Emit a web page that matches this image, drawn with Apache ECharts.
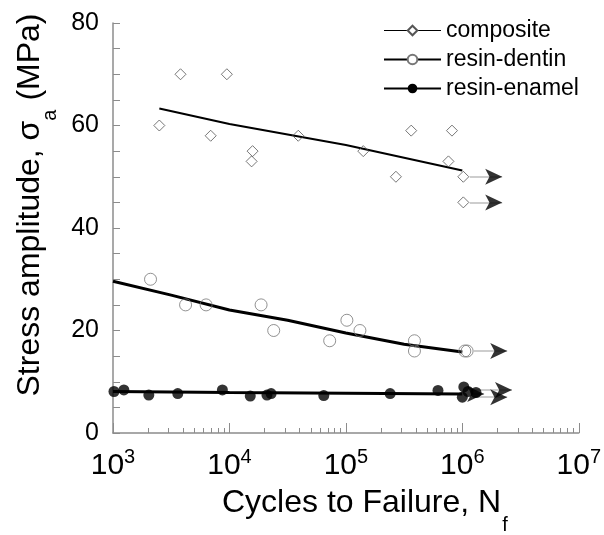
<!DOCTYPE html>
<html><head><meta charset="utf-8">
<script src="https://cdn.jsdelivr.net/npm/echarts@6/dist/echarts.min.js"></script>
<style>html,body{margin:0;padding:0;background:#fff}#c{width:604px;height:535px}</style>
</head><body><div id="c"></div>
<script>
// ---- data ----
const compositeN = [2500, 3800, 9500, 6900, 15800, 15500, 39000, 141000, 269000, 364000, 760000, 815000, 1020000, 1020000];
const compositeS = [60, 70, 70, 58, 55, 53, 58, 55, 50, 59, 53, 59, 50, 45];
const dentinN = [2100, 4200, 6300, 18700, 24000, 72600, 102000, 132000, 388000, 388000, 1050000, 1100000];
const dentinS = [30, 25, 25, 25, 20, 18, 22, 20, 18, 16, 16, 16];
const enamelN = [1020, 1240, 2030, 3600, 8700, 15100, 21000, 22800, 64600, 240000, 618000, 1030000, 1000000, 1120000, 1310000];
const enamelS = [8.1, 8.4, 7.4, 7.7, 8.4, 7.2, 7.4, 7.7, 7.3, 7.7, 8.3, 9.0, 7.0, 8.1, 7.9];

// fitted curves
const compositeFitN = [2500, 10000, 100000, 1000000];
const compositeFitS = [63.3, 60.3, 56.2, 51.2];
const dentinFitN = [1000, 3162, 10000, 31623, 100000, 316228, 1000000];
const dentinFitS = [29.6, 26.9, 24.0, 22.0, 19.5, 17.3, 15.8];
const enamelFitN = [1000, 10000, 100000, 1000000];
const enamelFitS = [8.1, 7.9, 7.75, 7.6];

// run-out arrows
const runoutY = [50, 45, 16, 8.4, 7.6, 7.0];
const runoutFromN = [1160000, 1160000, 1260000, 1230000, 1230000, 1230000];
const runoutHeadN = [2200000, 2200000, 2430000, 2670000, 1540000, 2430000];

// axis ticks
const xMin = 1e3, xMax = 1e7;
const xMinorTicks = [];
[1e3, 1e4, 1e5, 1e6].forEach(d => { for (let k = 2; k <= 9; k++) xMinorTicks.push(d * k); });
const yMin = 0, yMax = 80, yStep = 20;

const FONT = '"Liberation Sans", Arial, sans-serif';
const AX = '#8c8c8c';
const pairs = (xs, ys) => xs.map((x, i) => [x, ys[i]]);

const chart = echarts.init(document.getElementById('c'), null, {renderer: 'canvas'});
chart.setOption({
  animation: false,
  textStyle: {fontFamily: FONT},
  grid: {left: 113, right: 23, top: 23, bottom: 102, containLabel: false},
  legend: {
    orient: 'vertical', left: 383, top: 19, padding: 0,
    itemWidth: 57, itemHeight: 12, itemGap: 6,
    textStyle: {fontFamily: FONT, fontSize: 23, color: '#000', padding: [0, 0, 0, 0]},
    data: [
      {name: 'composite', lineStyle: {width: 1}},
      {name: 'resin-dentin', lineStyle: {width: 2}},
      {name: 'resin-enamel', lineStyle: {width: 2}}
    ]
  },
  xAxis: [{
    type: 'log', logBase: 10, min: xMin, max: xMax,
    axisLine: {lineStyle: {color: AX, width: 1.5}},
    axisTick: {inside: true, length: 10, lineStyle: {color: AX, width: 1}},
    splitLine: {show: false},
    axisLabel: {
      margin: 14, color: '#000',
      formatter: v => '{b|10}{s|' + Math.round(Math.log10(v)) + '}',
      rich: {
        b: {fontFamily: FONT, fontSize: 30, lineHeight: 30, padding: [8, 0, 0, 0], color: '#000'},
        s: {fontFamily: FONT, fontSize: 20, lineHeight: 20, verticalAlign: 'top', color: '#000'}
      }
    }
  }, {
    type: 'log', logBase: 10, min: xMin, max: xMax, position: 'bottom',
    axisLine: {show: false},
    axisTick: {inside: true, length: 5, customValues: xMinorTicks, lineStyle: {color: AX, width: 1}},
    axisLabel: {show: false},
    splitLine: {show: false}
  }],
  yAxis: {
    type: 'value', min: yMin, max: yMax, interval: yStep,
    axisLine: {show: true, lineStyle: {color: AX, width: 1.5}},
    axisTick: {show: true, inside: true, length: 7, lineStyle: {color: AX}},
    minorTick: {show: true, splitNumber: 4, length: 7, lineStyle: {color: AX}},
    splitLine: {show: false},
    axisLabel: {margin: 14, fontSize: 25, color: '#000', fontFamily: FONT}
  },
  graphic: [
    {type: 'text', x: 222, y: 503, z: 10,
     style: {text: 'Cycles to Failure, N{s|f}', fontFamily: FONT, fontSize: 32, fill: '#000',
             verticalAlign: 'middle', align: 'left',
             rich: {s: {fontFamily: FONT, fontSize: 20, verticalAlign: 'bottom', padding: [0, 0, -16, 1], fill: '#000'}}}},
    {type: 'text', x: 30, y: 205, rotation: Math.PI / 2, z: 10,
     style: {text: 'Stress amplitude, σ{s|a} (MPa)', fontFamily: FONT, fontSize: 32, fill: '#000',
             verticalAlign: 'middle', align: 'center',
             rich: {s: {fontFamily: FONT, fontSize: 20, verticalAlign: 'bottom', padding: [0, 0, -14, 0], fill: '#000'}}}}
  ],
  series: [
    {name: 'composite', type: 'line', data: pairs(compositeFitN, compositeFitS), symbol: 'diamond', showSymbol: false,
     lineStyle: {color: '#000', width: 2}, itemStyle: {color: '#fff', borderColor: '#555', borderWidth: 1}, z: 3},
    {name: 'resin-dentin', type: 'line', data: pairs(dentinFitN, dentinFitS), symbol: 'circle', showSymbol: false,
     lineStyle: {color: '#000', width: 3}, itemStyle: {color: '#fff', borderColor: '#777', borderWidth: 1}, z: 3},
    {name: 'resin-enamel', type: 'line', data: pairs(enamelFitN, enamelFitS), symbol: 'circle', showSymbol: false,
     lineStyle: {color: '#000', width: 3}, itemStyle: {color: '#000'}, z: 3},
    {name: 'runout', type: 'lines', coordinateSystem: 'cartesian2d', z: 2,
     lineStyle: {color: '#bdbdbd', width: 1.5, opacity: 1},
     data: runoutY.map((y, i) => ({coords: [[runoutFromN[i], y], [runoutHeadN[i], y]]}))},
    {name: 'runout-head', type: 'scatter', symbol: 'arrow', symbolRotate: -90, symbolSize: [12, 17],
     itemStyle: {color: '#000'}, data: pairs(runoutHeadN, runoutY), z: 4},
    {name: 'composite-pts', type: 'scatter', symbol: 'diamond', symbolSize: [11, 11],
     itemStyle: {color: 'rgba(255,255,255,0)', borderColor: '#555', borderWidth: 1}, data: pairs(compositeN, compositeS), z: 5},
    {name: 'dentin-pts', type: 'scatter', symbol: 'circle', symbolSize: 12,
     itemStyle: {color: 'rgba(255,255,255,0)', borderColor: '#777', borderWidth: 1}, data: pairs(dentinN, dentinS), z: 5},
    {name: 'enamel-pts', type: 'scatter', symbol: 'circle', symbolSize: 11,
     itemStyle: {color: '#000'}, data: pairs(enamelN, enamelS), z: 5}
  ]
});
</script></body></html>
